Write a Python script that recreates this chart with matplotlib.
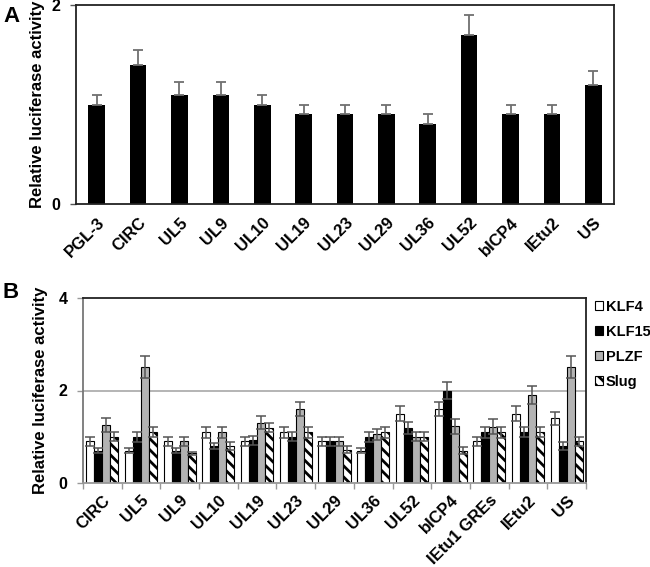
import matplotlib
matplotlib.use("Agg")
import matplotlib.pyplot as plt
import numpy as np

plt.rcParams['font.family'] = ['Liberation Sans', 'DejaVu Sans']
plt.rcParams['font.weight'] = 'bold'
plt.rcParams['hatch.linewidth'] = 2.0

# ---- Panel A data ----
cats_a = ["PGL-3", "CIRC", "UL5", "UL9", "UL10", "UL19", "UL23", "UL29", "UL36",
          "UL52", "bICP4", "IEtu2", "US"]
vals_a = [1.0, 1.4, 1.1, 1.1, 1.0, 0.9, 0.9, 0.9, 0.8, 1.7, 0.9, 0.9, 1.2]
err_a = [0.1, 0.15, 0.13, 0.13, 0.1, 0.1, 0.1, 0.1, 0.1, 0.2, 0.1, 0.1, 0.14]

# ---- Panel B data ----
cats_b = ["CIRC", "UL5", "UL9", "UL10", "UL19", "UL23", "UL29", "UL36", "UL52",
          "bICP4", "IEtu1 GREs", "IEtu2", "US"]
series_b = ["KLF4", "KLF15", "PLZF", "Slug"]
klf4 = [0.9, 0.7, 0.9, 1.1, 0.9, 1.1, 0.9, 0.7, 1.5, 1.6, 0.9, 1.5, 1.4]
klf15 = [0.7, 1.0, 0.7, 0.8, 0.92, 1.0, 0.9, 1.0, 1.18, 2.0, 1.1, 1.1, 0.8]
plzf = [1.25, 2.5, 0.9, 1.1, 1.3, 1.6, 0.9, 1.05, 1.0, 1.23, 1.22, 1.9, 2.5]
slug = [1.0, 1.1, 0.64, 0.8, 1.2, 1.1, 0.72, 1.1, 1.0, 0.7, 1.1, 1.1, 0.9]
klf4_err = [0.1, 0.05, 0.1, 0.12, 0.1, 0.12, 0.1, 0.05, 0.16, 0.16, 0.1, 0.16, 0.14]
klf15_err = [0.05, 0.11, 0.05, 0.06, 0.1, 0.1, 0.1, 0.11, 0.13, 0.19, 0.12, 0.11, 0.08]
plzf_err = [0.15, 0.24, 0.1, 0.12, 0.14, 0.16, 0.1, 0.12, 0.1, 0.16, 0.17, 0.2, 0.24]
slug_err = [0.1, 0.11, 0.04, 0.09, 0.1, 0.12, 0.07, 0.12, 0.1, 0.07, 0.12, 0.11, 0.1]

fig = plt.figure(figsize=(6.5, 5.67), dpi=100)

TICK_FS = 12

# ---------------- Panel A ----------------
axA = fig.add_axes([76/650, 1-204/567, 538/650, 199/567])
xa = np.arange(len(cats_a))
axA.bar(xa, vals_a, width=0.4, color='black', zorder=2)
axA.errorbar(xa, vals_a, yerr=[np.zeros(len(err_a)), err_a], fmt='none',
             ecolor='#707070', elinewidth=1.3, capsize=3.5, capthick=1.3, zorder=3)
axA.set_xlim(-0.5, 12.5)
axA.set_ylim(0, 2)
axA.set_yticks([0, 2])
axA.set_yticklabels(['0', '2'], fontsize=11.5, fontweight='bold')
axA.set_xticks(xa)
axA.set_xticklabels(cats_a, rotation=45, ha='right', rotation_mode='anchor',
                    fontsize=TICK_FS, fontweight='bold')
axA.tick_params(axis='x', length=0, pad=8)
axA.tick_params(axis='y', length=4, width=1, color='#555555', pad=7)
for s in axA.spines.values():
    s.set_linewidth(1.3)
    s.set_color('#222222')
axA.set_ylabel('Relative luciferase activity', fontsize=12, fontweight='bold', labelpad=5)
fig.text(3/650, 1-16/567, 'A', fontsize=16, fontweight='bold', va='center', ha='left')

# ---------------- Panel B ----------------
axB = fig.add_axes([83/650, 1-483/567, 503/650, 185/567])
xb = np.arange(len(cats_b))
w = 0.207
colors = ['white', 'black', '#b3b3b3', 'white']
hatches = [None, None, None, '\\\\\\']
vals = [klf4, klf15, plzf, slug]
errs = [klf4_err, klf15_err, plzf_err, slug_err]
handles = []
for i, (v, e, c, h, name) in enumerate(zip(vals, errs, colors, hatches, series_b)):
    pos = xb + (i - 1.5) * w
    b = axB.bar(pos, v, width=w, color=c, edgecolor='black', linewidth=0.8,
                hatch=h, label=name, zorder=2)
    axB.errorbar(pos, v, yerr=e, fmt='none', ecolor='#555555', elinewidth=1.1,
                 capsize=3.5, capthick=1.1, zorder=3)
    handles.append(b)
axB.axhline(2, color='#a8a8a8', linewidth=1.2, zorder=1)
axB.set_xlim(-0.5, 12.5)
axB.set_ylim(0, 4)
axB.set_yticks([0, 2, 4])
axB.set_yticklabels(['0', '2', '4'], fontsize=11.5, fontweight='bold')
axB.set_xticks(xb)
axB.set_xticklabels(cats_b, rotation=45, ha='right', rotation_mode='anchor',
                    fontsize=TICK_FS, fontweight='bold')
axB.set_xticks(np.arange(-0.5, 13, 1), minor=True)
axB.tick_params(axis='x', which='major', length=0, pad=7)
axB.tick_params(axis='x', which='minor', length=4, width=1, color='#999999')
axB.tick_params(axis='y', length=4, width=1, color='#999999', pad=7)
axB.spines['left'].set_color('#777777')
axB.spines['bottom'].set_color('#999999')
axB.spines['top'].set_color('#222222')
axB.spines['right'].set_color('#222222')
for s in axB.spines.values():
    s.set_linewidth(1.3)
axB.set_ylabel('Relative luciferase activity', fontsize=12, fontweight='bold', labelpad=8)
fig.text(3/650, 1-293/567, 'B', fontsize=16, fontweight='bold', va='center', ha='left')

fig.legend(handles=handles, labels=series_b, loc='upper left',
           bbox_to_anchor=(595/650, 1-300/567), frameon=False,
           prop={'size': 10.5, 'weight': 'bold'}, handlelength=0.55, handleheight=0.55,
           handletextpad=0.2, labelspacing=0.75, borderpad=0, borderaxespad=0)

fig.savefig('out.png', dpi=100)
